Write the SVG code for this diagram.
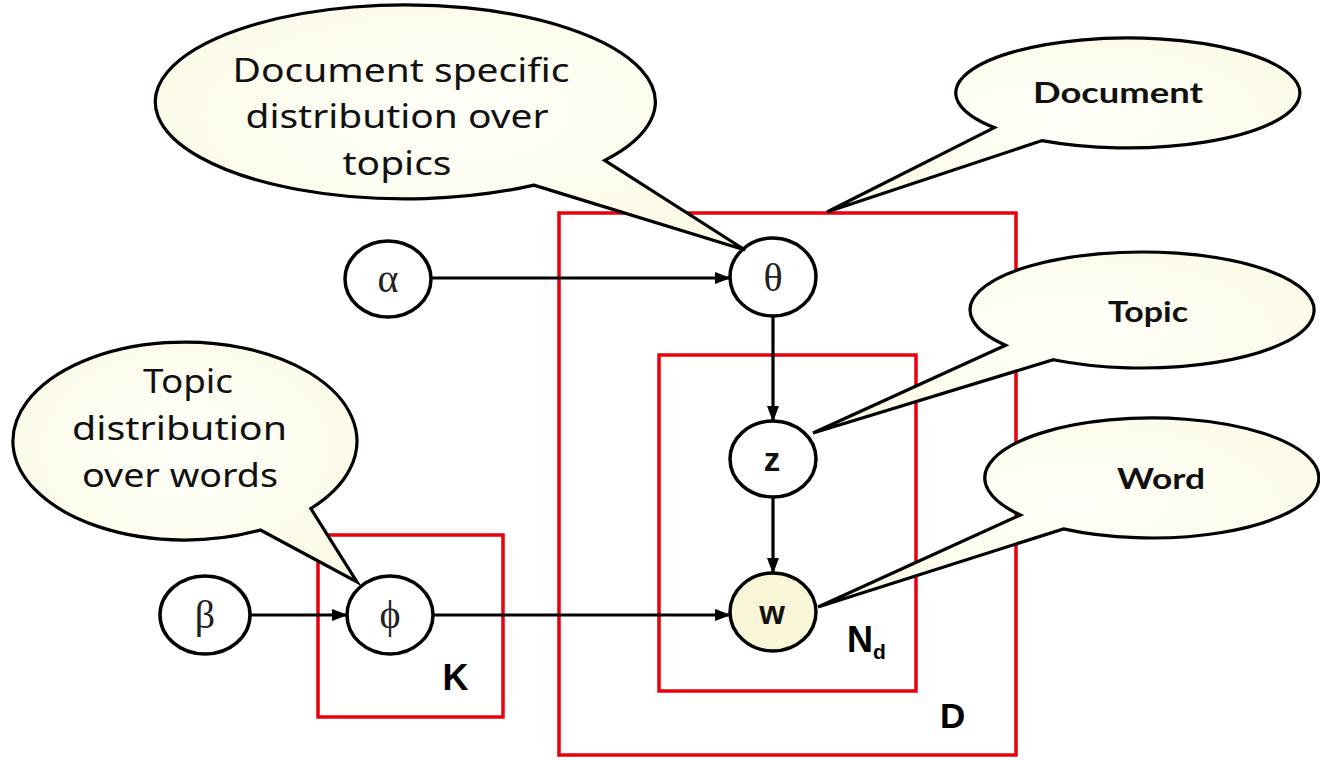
<svg xmlns="http://www.w3.org/2000/svg" width="1320" height="760" viewBox="0 0 1320 760">
  <defs>
    <radialGradient id="cream" cx="50%" cy="45%" r="60%">
      <stop offset="0" stop-color="#fffffa"/>
      <stop offset="1" stop-color="#fbfae6"/>
    </radialGradient>
    <marker id="arrow" markerUnits="userSpaceOnUse" markerWidth="16" markerHeight="12" refX="15" refY="6" orient="auto">
      <path d="M0,0 L16,6 L0,12 Z" fill="#000"/>
    </marker>
    <style>
      .plate { fill: none; stroke: #e8000b; stroke-width: 3.5; }
      .node { fill: #fff; stroke: #000; stroke-width: 3.5; }
      .observed { fill: #f8f6d6; }
      .edge { fill: none; stroke: #000; stroke-width: 3.2; marker-end: url(#arrow); }
      .bubble { fill: url(#cream); stroke: #000; stroke-width: 3.2; stroke-linejoin: miter; }
      .greek { font-family: "Liberation Serif", "DejaVu Serif", serif; font-size: 40px; text-anchor: middle; fill: #222; }
      .var { font-family: "Liberation Sans", Arial, sans-serif; font-weight: bold; font-size: 33px; text-anchor: middle; fill: #111; }
      .plabel { font-family: "Liberation Sans", Arial, sans-serif; font-weight: bold; fill: #000; }
      .note { font-family: "Noto Sans", "Open Sans", sans-serif; font-size: 33px; text-anchor: middle; fill: #111; }
      .tag { font-family: Lato, "Open Sans", sans-serif; font-weight: 700; font-size: 28px; text-anchor: middle; fill: #111; }
    </style>
  </defs>

  <rect width="1320" height="760" fill="#fff"/>

  <!-- plates -->
  <g id="plate-K">
    <rect class="plate" x="318" y="535" width="185" height="182"/>
    <text class="plabel" x="455.5" y="690" font-size="36" text-anchor="middle">K</text>
  </g>
  <g id="plate-D">
    <rect class="plate" x="559" y="213" width="457" height="542"/>
    <text class="plabel" x="940" y="728" font-size="35">D</text>
  </g>
  <g id="plate-Nd">
    <rect class="plate" x="659" y="355" width="257" height="336"/>
    <text class="plabel" x="847" y="652" font-size="36">N<tspan font-size="21" dy="7">d</tspan></text>
  </g>

  <!-- connectors -->
  <g id="edges">
    <line class="edge" x1="431" y1="278" x2="730" y2="278"/>
    <line class="edge" x1="773" y1="317" x2="773" y2="421"/>
    <line class="edge" x1="773" y1="497" x2="773" y2="573"/>
    <line class="edge" x1="250" y1="615" x2="347" y2="615"/>
    <line class="edge" x1="433" y1="615" x2="730" y2="615"/>
  </g>

  <!-- nodes -->
  <g id="node-alpha">
    <ellipse class="node" cx="388" cy="279" rx="43" ry="38"/>
    <text class="greek" x="388" y="292">α</text>
  </g>
  <g id="node-theta">
    <ellipse class="node" cx="773" cy="277" rx="43" ry="39"/>
    <text class="greek" x="773" y="291">θ</text>
  </g>
  <g id="node-z">
    <ellipse class="node" cx="773" cy="459" rx="43" ry="38"/>
    <text class="var" x="772" y="471">z</text>
  </g>
  <g id="node-w">
    <ellipse class="node observed" cx="773" cy="612" rx="43" ry="39"/>
    <text class="var" x="772" y="624">w</text>
  </g>
  <g id="node-beta">
    <ellipse class="node" cx="205" cy="615" rx="45" ry="39"/>
    <text class="greek" x="205" y="628">β</text>
  </g>
  <g id="node-phi">
    <ellipse class="node" cx="390" cy="615" rx="43" ry="39"/>
    <text class="greek" x="390" y="628">ϕ</text>
  </g>

  <!-- callouts -->
  <g id="callout-doc-topics">
    <path class="bubble" d="M533.8,185.1 L745,250 L604.7,160.4 A250,97 0 1 0 533.8,185.1 Z"/>
    <text class="note" x="401" y="82" textLength="337" lengthAdjust="spacingAndGlyphs">Document specific</text>
    <text class="note" x="397" y="128" textLength="303" lengthAdjust="spacingAndGlyphs">distribution over</text>
    <text class="note" x="397" y="175" textLength="109" lengthAdjust="spacingAndGlyphs">topics</text>
  </g>
  <g id="callout-topic-words">
    <path class="bubble" d="M260.4,530 L357,582 L310.8,508.5 A172,99 0 1 0 260.4,530 Z"/>
    <text class="note" x="188" y="393" textLength="90" lengthAdjust="spacingAndGlyphs">Topic</text>
    <text class="note" x="179.5" y="440" textLength="215" lengthAdjust="spacingAndGlyphs">distribution</text>
    <text class="note" x="180" y="487" textLength="196" lengthAdjust="spacingAndGlyphs">over words</text>
  </g>
  <g id="callout-document">
    <path class="bubble" d="M994.3,127.6 L827,212 L1042,140.6 A172,55 0 1 0 994.3,127.6 Z"/>
    <text class="tag" x="1118" y="103" textLength="170" lengthAdjust="spacingAndGlyphs">Document</text>
  </g>
  <g id="callout-topic">
    <path class="bubble" d="M1005.6,345.3 L813,433 L1053.4,359.7 A172,58 0 1 0 1005.6,345.3 Z"/>
    <text class="tag" x="1148" y="322" textLength="80" lengthAdjust="spacingAndGlyphs">Topic</text>
  </g>
  <g id="callout-word">
    <path class="bubble" d="M1020.4,515 L818,607 L1063.5,528.9 A167,60 0 1 0 1020.4,515 Z"/>
    <text class="tag" x="1161" y="489" textLength="88" lengthAdjust="spacingAndGlyphs">Word</text>
  </g>
</svg>
